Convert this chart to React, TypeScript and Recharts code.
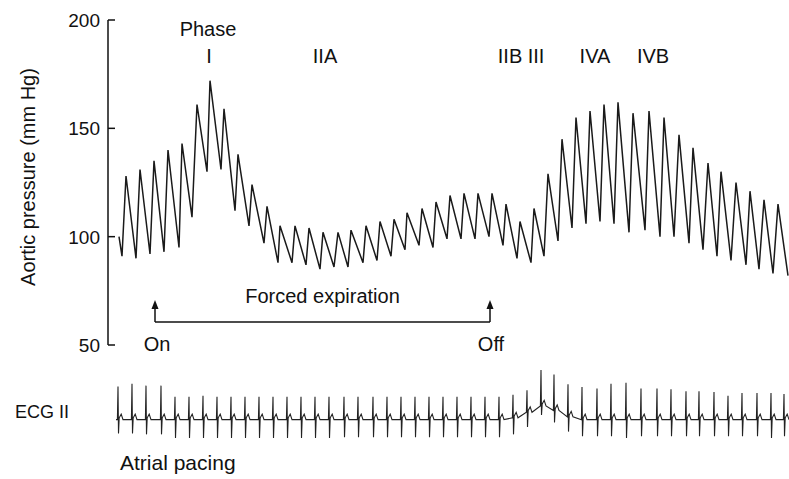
import { Line, LineChart, ReferenceDot, ReferenceLine, XAxis, YAxis } from 'recharts';

// time axis is in recording units, 0 = start of the y axis
const troughTimes = [14, 28, 42, 56, 71, 84, 99, 113, 127, 141, 156, 170, 184, 198, 212, 226, 240, 255, 269, 283, 297, 311, 325, 339, 353, 367, 381, 395, 409, 423, 436, 450, 464, 478, 492, 506, 521, 537, 552, 566, 581, 595, 609, 623, 638, 651, 665];
const troughValues = [91, 90, 92, 93, 95, 109, 130, 131, 112, 105, 97, 88, 88, 87, 85, 86, 86, 88, 89, 91, 94, 96, 95, 99, 99, 99, 100, 96, 90, 88, 91, 98, 104, 106, 107, 106, 102, 103, 100, 100, 97, 94, 91, 89, 87, 85, 83];
const peakTimes = [18, 32, 46, 60, 74, 89, 102, 116, 130, 144, 159, 172, 187, 201, 215, 230, 243, 258, 272, 286, 299, 314, 328, 342, 356, 370, 384, 398, 412, 426, 440, 454, 468, 482, 496, 510, 525, 541, 556, 571, 585, 600, 613, 628, 642, 656, 670];
const peakValues = [128, 131, 135, 140, 143, 161, 172, 159, 138, 124, 114, 105, 105, 104, 102, 102, 103, 105, 107, 108, 111, 113, 116, 119, 120, 120, 120, 115, 107, 113, 129, 145, 155, 158, 161, 162, 157, 158, 155, 147, 141, 134, 130, 125, 121, 117, 115];
const traceStart = { t: 11, p: 100 };
const traceEnd = { t: 680, p: 82 };

// ECG: pacing spikes
const spikeTimes = [10, 24, 38, 53, 67, 81, 95, 109, 123, 137, 151, 165, 179, 193, 207, 221, 236, 250, 265, 279, 293, 307, 321, 335, 349, 363, 377, 391, 405, 419, 433, 446, 460, 474, 489, 503, 518, 533, 549, 563, 578, 591, 606, 620, 634, 649, 663, 676];
const spikeTops = [1.8, 1.95, 1.85, 1.85, 1.25, 1.25, 1.3, 1.25, 1.25, 1.25, 1.25, 1.25, 1.25, 1.25, 1.25, 1.25, 1.25, 1.25, 1.25, 1.25, 1.25, 1.25, 1.25, 1.25, 1.25, 1.25, 1.25, 1.25, 1.25, 1.2, 1.95, 1.95, 1.77, 1.77, 1.7, 1.95, 2.0, 1.7, 1.7, 1.65, 1.55, 1.55, 1.5, 1.3, 1.45, 1.45, 1.45, 1.4];
const spikeBottoms = [-0.75, -0.75, -0.8, -0.8, -1.0, -1.0, -1.0, -1.0, -1.0, -1.0, -1.0, -1.0, -1.0, -1.0, -1.0, -1.0, -0.95, -0.95, -0.95, -0.95, -0.95, -0.95, -0.95, -0.95, -0.95, -0.95, -0.95, -0.95, -0.9, -0.8, -0.5, -0.65, -0.8, -0.9, -0.9, -0.9, -1.0, -0.9, -0.9, -0.9, -0.9, -0.9, -0.9, -0.9, -0.9, -0.9, -1.0, -0.9];
const ecgBaselines = [0, 0, 0, 0, 0, 0, 0, 0, 0, 0, 0, 0, 0, 0, 0, 0, 0, 0, 0, 0, 0, 0, 0, 0, 0, 0, 0, 0, 0.1, 0.4, 0.75, 0.5, 0.15, 0, 0, 0, 0, 0, 0, 0, 0, 0, 0, 0, 0, 0, 0, 0];
const tWave = 0.3;

const phaseNames = ['I', 'IIA', 'IIB', 'III', 'IVA', 'IVB'];
const phaseTimes = [101, 217, 402, 428, 487, 545];
const expirationOn = 47;
const expirationOff = 382;
const pressureTicks = [50, 100, 150, 200];

const pressureData = [
    traceStart,
    ...troughTimes.flatMap((t, i) => [
        { t, p: troughValues[i] },
        { t: peakTimes[i], p: peakValues[i] },
    ]),
    traceEnd,
];

const ecgData = [
    { t: 8, v: 0 },
    ...spikeTimes.flatMap((s, i) => {
        const b = ecgBaselines[i];
        return [
            { t: s - 0.6, v: b },
            { t: s, v: b + spikeTops[i] },
            { t: s + 0.5, v: b + spikeBottoms[i] },
            { t: s + 1.2, v: b + 0.1 },
            { t: s + 3.2, v: b + tWave },
            { t: s + 5, v: b },
        ];
    }),
    { t: 681, v: 0 },
];

const ink = '#111';
const font = '"Liberation Sans", Arial, sans-serif';

const PressureTick = (props: any) => {
    const { x, y, payload } = props;
    return (
        <g>
            <line x1={x} x2={x + 7} y1={y} y2={y} stroke={ink} strokeWidth={1.5} />
            <text x={x - 8} y={y} dy="0.36em" textAnchor="end" fontSize={19} fill={ink}>{payload.value}</text>
        </g>
    );
};

const ArrowHead = (props: any) => (
    <path d={`M${props.cx},${props.cy} L${props.cx - 3.5},${props.cy + 9} L${props.cx + 3.5},${props.cy + 9} Z`} fill={ink} />
);

const textLabel = (value: string, size = 20) => ({
    value, position: 'center' as const, fill: ink, fontSize: size,
});

export default function App() {
    return (
        <div style={{ position: 'absolute', left: 0, top: 0, width: 789, height: 479, background: '#fff', fontFamily: font, color: ink }}>
            <LineChart width={789} height={360} data={pressureData}
                margin={{ top: 20, right: 0, bottom: 15, left: 0 }}
                style={{ position: 'absolute', left: 0, top: 0, fontFamily: font }}>
                <XAxis dataKey="t" type="number" domain={[0, 681]} hide />
                <YAxis domain={[50, 200]} ticks={pressureTicks} interval={0} width={108}
                    tickSize={0} tickMargin={0} tickLine={false}
                    axisLine={{ stroke: ink, strokeWidth: 1.5 }}
                    tick={<PressureTick />}
                    label={{
                        content: () => (
                            <text x={28} y={177} transform="rotate(-90 28 177)" textAnchor="middle"
                                dominantBaseline="central" fontSize={20} fill={ink}>Aortic pressure (mm Hg)</text>
                        ),
                    }} />
                <ReferenceDot x={100} y={195.8} r={0} fill="none" stroke="none" label={textLabel('Phase')} />
                {phaseNames.map((name, i) => (
                    <ReferenceDot key={name} x={phaseTimes[i]} y={183.4} r={0} fill="none" stroke="none" label={textLabel(name)} />
                ))}
                <ReferenceLine segment={[{ x: expirationOn, y: 60.6 }, { x: expirationOff, y: 60.6 }]} stroke={ink} strokeWidth={1.5} />
                <ReferenceLine segment={[{ x: expirationOn, y: 60.6 }, { x: expirationOn, y: 68 }]} stroke={ink} strokeWidth={1.5} />
                <ReferenceLine segment={[{ x: expirationOff, y: 60.6 }, { x: expirationOff, y: 68 }]} stroke={ink} strokeWidth={1.5} />
                <ReferenceDot x={expirationOn} y={70.8} r={1} shape={<ArrowHead />} />
                <ReferenceDot x={expirationOff} y={70.8} r={1} shape={<ArrowHead />} />
                <ReferenceDot x={(expirationOn + expirationOff) / 2} y={72.6} r={0} fill="none" stroke="none" label={textLabel('Forced expiration')} />
                <ReferenceDot x={expirationOn + 2} y={50.5} r={0} fill="none" stroke="none" label={textLabel('On')} />
                <ReferenceDot x={expirationOff + 1} y={50.5} r={0} fill="none" stroke="none" label={textLabel('Off')} />
                <Line dataKey="p" type="linear" stroke="#1a1a1a" strokeWidth={1.5} dot={false} isAnimationActive={false} />
            </LineChart>
            <LineChart width={789} height={80} data={ecgData}
                margin={{ top: 0, right: 0, bottom: 0, left: 108 }}
                style={{ position: 'absolute', left: 0, top: 370 }}>
                <XAxis dataKey="t" type="number" domain={[0, 681]} hide />
                <YAxis domain={[-1.65, 2.35]} hide />
                <Line dataKey="v" type="linear" stroke="#222" strokeWidth={1.1} dot={false} isAnimationActive={false} />
            </LineChart>
            <div style={{ position: 'absolute', left: 15, top: 403, fontSize: 18, lineHeight: '18px', whiteSpace: 'nowrap' }}>ECG II</div>
            <div style={{ position: 'absolute', left: 120, top: 452, fontSize: 21, lineHeight: '21px', whiteSpace: 'nowrap' }}>Atrial pacing</div>
        </div>
    );
}
